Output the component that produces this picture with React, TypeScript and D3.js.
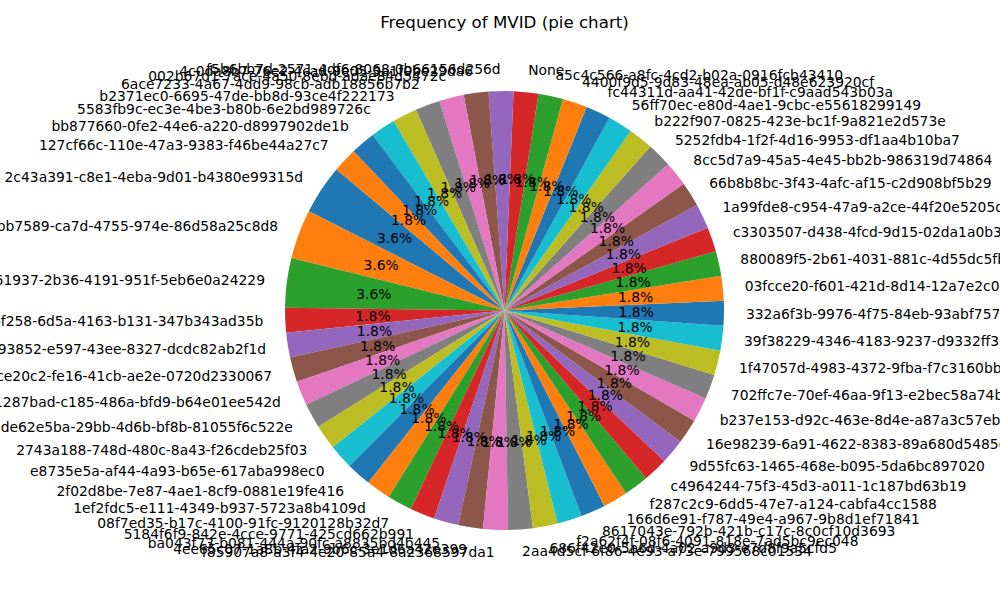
import { useEffect, useRef } from "react";
import * as d3 from "d3";

// MVID values in pie order (counter-clockwise from startangle 140)
const mvids = [
  "2c43a391-c8e1-4eba-9d01-b4380e99315d",
  "e1bb7589-ca7d-4755-974e-86d58a25c8d8",
  "0a961937-2b36-4191-951f-5eb6e0a24229",
  "3c7bf258-6d5a-4163-b131-347b343ad35b",
  "7e093852-e597-43ee-8327-dcdc82ab2f1d",
  "a1ce20c2-fe16-41cb-ae2e-0720d2330067",
  "41287bad-c185-486a-bfd9-b64e01ee542d",
  "de62e5ba-29bb-4d6b-bf8b-81055f6c522e",
  "2743a188-748d-480c-8a43-f26cdeb25f03",
  "e8735e5a-af44-4a93-b65e-617aba998ec0",
  "2f02d8be-7e87-4ae1-8cf9-0881e19fe416",
  "1ef2fdc5-e111-4349-b937-5723a8b4109d",
  "08f7ed35-b17c-4100-91fc-9120128b32d7",
  "5184f6f9-842e-4cce-9771-425cd662b991",
  "ba043f73-b081-444a-90fc-a8835bd4b445",
  "4ee65c07-1a8b-4fa2-9b6c-3e1d6a42e399",
  "f85907a8-a3f4-4e20-85a4-8a2368597da1",
  "2aa4d5cf-6f86-4e93-a73e-799568c01534",
  "686f42e0-5a6d-4a02-a9d3-e7d8f9a5cfd5",
  "f2a62f4f-08f6-4091-818e-7ad5bc9ec048",
  "8617043e-792b-421b-c17c-8c0cf10d3693",
  "166d6e91-f787-49e4-a967-9b8d1ef71841",
  "f287c2c9-6dd5-47e7-a124-cabfa4cc1588",
  "c4964244-75f3-45d3-a011-1c187bd63b19",
  "9d55fc63-1465-468e-b095-5da6bc897020",
  "16e98239-6a91-4622-8383-89a680d5485e",
  "b237e153-d92c-463e-8d4e-a87a3c57eb6a",
  "702ffc7e-70ef-46aa-9f13-e2bec58a74b1",
  "1f47057d-4983-4372-9fba-f7c3160bb2a4",
  "39f38229-4346-4183-9237-d9332ff3e5c0",
  "332a6f3b-9976-4f75-84eb-93abf7571d2e",
  "03fcce20-f601-421d-8d14-12a7e2c03b6f",
  "880089f5-2b61-4031-881c-4d55dc5fb7a2",
  "c3303507-d438-4fcd-9d15-02da1a0b3e91",
  "1a99fde8-c954-47a9-a2ce-44f20e5205dc",
  "66b8b8bc-3f43-4afc-af15-c2d908bf5b29",
  "8cc5d7a9-45a5-4e45-bb2b-986319d74864",
  "5252fdb4-1f2f-4d16-9953-df1aa4b10ba7",
  "b222f907-0825-423e-bc1f-9a821e2d573e",
  "56ff70ec-e80d-4ae1-9cbc-e55618299149",
  "fc44311d-aa41-42de-bf1f-c9aad543b03a",
  "4400f9d5-9d83-48ea-ab05-d48e623920cf",
  "a5c4c566-a8fc-4cd2-b02a-0916fcb43410",
  "None",
  "f5b6bb7d-2571-4df6-8068-0b66156d256d",
  "4c0da8b7-76e2-4cad-9e05-3a1f0be29da6",
  "002b67d1-7ace-4a50-8ebd-adae84d5472c",
  "6ace7233-4a67-4dd9-98cb-adb18856b7b2",
  "b2371ec0-6695-47de-bb8d-93ce4f222173",
  "5583fb9c-ec3e-4be3-b80b-6e2bd989726c",
  "bb877660-0fe2-44e6-a220-d8997902de1b",
  "127cf66c-110e-47a3-9383-f46be44a27c7",
];

const counts = [
  2, 2, 2, 1, 1, 1, 1, 1, 1, 1, 1, 1, 1, 1, 1, 1, 1, 1, 1, 1, 1, 1, 1, 1, 1, 1,
  1, 1, 1, 1, 1, 1, 1, 1, 1, 1, 1, 1, 1, 1, 1, 1, 1, 1, 1, 1, 1, 1, 1, 1, 1, 1,
];

const title = "Frequency of MVID (pie chart)";

export default function App() {
  const ref = useRef<SVGSVGElement>(null);

  useEffect(() => {
    const width = 1000;
    const height = 600;
    const cx = 504.5;
    const cy = 310.5;
    const r = 219.5;
    const font = "DejaVu Sans, sans-serif";

    const svg = d3.select(ref.current);
    svg.selectAll("*").remove();
    svg.attr("viewBox", `0 0 ${width} ${height}`);

    const rows = mvids.map((id, i) => ({ id, n: counts[i], i }));
    const total = d3.sum(counts);

    // matplotlib startangle=140, counter-clockwise -> d3 angles (clockwise from north)
    const start = ((90 - 140) * Math.PI) / 180;
    const pie = d3
      .pie<any>()
      .sort(null)
      .value((d) => d.n)
      .startAngle(start)
      .endAngle(start - 2 * Math.PI);
    const arcs = pie(rows);
    const arc = d3.arc<any>().innerRadius(0).outerRadius(r);
    const color = d3.scaleOrdinal<number, string>(d3.schemeCategory10);

    const g = svg.append("g").attr("transform", `translate(${cx},${cy})`);

    g.selectAll("path")
      .data(arcs)
      .join("path")
      .attr("d", arc)
      .attr("fill", (d) => color(d.index % 10));

    const pos = (d: any, k: number) => {
      const m = (d.startAngle + d.endAngle) / 2;
      return [Math.sin(m) * r * k, -Math.cos(m) * r * k];
    };

    const t = g.append("g").attr("font-family", font).attr("font-size", 13.89).attr("fill", "#000");
    arcs.forEach((d) => {
      const [lx, ly] = pos(d, 1.1);
      t.append("text")
        .attr("x", lx)
        .attr("y", ly)
        .attr("dominant-baseline", "central")
        .attr("text-anchor", lx > 0 ? "start" : "end")
        .text(d.data.id);
      const [px, py] = pos(d, 0.6);
      t.append("text")
        .attr("x", px)
        .attr("y", py)
        .attr("dominant-baseline", "central")
        .attr("text-anchor", "middle")
        .text(((d.data.n / total) * 100).toFixed(1) + "%");
    });

    svg
      .append("text")
      .attr("x", cx)
      .attr("y", 28)
      .attr("text-anchor", "middle")
      .attr("font-family", font)
      .attr("font-size", 16.67)
      .attr("fill", "#000")
      .text(title);
  }, []);

  return (
    <svg
      ref={ref}
      width={1000}
      height={600}
      style={{ position: "absolute", left: 0, top: 0, background: "#fff" }}
    />
  );
}
